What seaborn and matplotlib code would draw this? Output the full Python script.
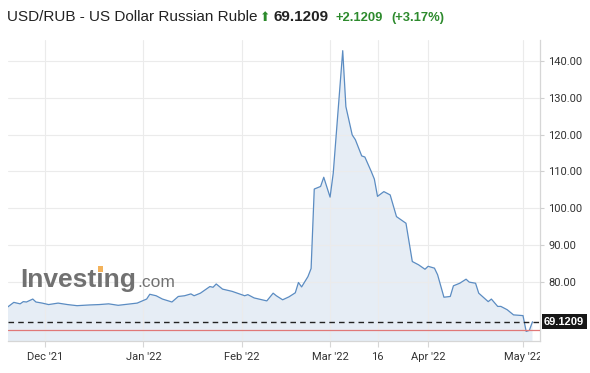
import matplotlib
matplotlib.use("Agg")
import matplotlib.pyplot as plt
from matplotlib.transforms import Bbox, TransformedBbox, blended_transform_factory
from matplotlib.patches import Rectangle
import seaborn as sns
import pandas as pd

# ---------------- data ----------------
dates = [
    "2021-11-19", "2021-11-21", "2021-11-23", "2021-11-24", "2021-11-25", "2021-11-27",
    "2021-11-28", "2021-11-30", "2021-12-02", "2021-12-05", "2021-12-08", "2021-12-11",
    "2021-12-15", "2021-12-18", "2021-12-21", "2021-12-24", "2021-12-27", "2021-12-30",
    "2022-01-02", "2022-01-03", "2022-01-05", "2022-01-07", "2022-01-10", "2022-01-12",
    "2022-01-14", "2022-01-16", "2022-01-17", "2022-01-19", "2022-01-22", "2022-01-23",
    "2022-01-24", "2022-01-26", "2022-01-29", "2022-02-02", "2022-02-03", "2022-02-05",
    "2022-02-09", "2022-02-11", "2022-02-12", "2022-02-14", "2022-02-16", "2022-02-18",
    "2022-02-19", "2022-02-20", "2022-02-22", "2022-02-23", "2022-02-24", "2022-02-26",
    "2022-02-27", "2022-03-01", "2022-03-02", "2022-03-05", "2022-03-06", "2022-03-08",
    "2022-03-09", "2022-03-11", "2022-03-12", "2022-03-14", "2022-03-15", "2022-03-16",
    "2022-03-18", "2022-03-20", "2022-03-22", "2022-03-25", "2022-03-27", "2022-03-29",
    "2022-03-31", "2022-04-01", "2022-04-03", "2022-04-04", "2022-04-06", "2022-04-08",
    "2022-04-09", "2022-04-11", "2022-04-13", "2022-04-14", "2022-04-16", "2022-04-17",
    "2022-04-20", "2022-04-21", "2022-04-23", "2022-04-24", "2022-04-26", "2022-04-28",
    "2022-05-01", "2022-05-02", "2022-05-03", "2022-05-04",
]
rates = [
    73.1, 74.4, 74.0, 74.6, 74.5, 75.3,
    74.5, 74.2, 73.8, 74.2, 73.8, 73.5,
    73.7, 73.8, 74.0, 73.6, 73.9, 74.2,
    75.3, 76.6, 76.2, 75.3, 74.5, 76.0,
    76.2, 76.7, 76.2, 76.9, 78.7, 78.5,
    79.4, 78.0, 77.4, 76.2, 76.5, 75.6,
    74.8, 76.9, 76.2, 75.1, 75.9, 77.0,
    79.8, 78.6, 81.4, 83.6, 105.2, 105.9,
    108.4, 103.0, 109.5, 142.8, 127.6, 119.9,
    118.6, 114.2, 113.9, 110.0, 107.9, 103.2,
    104.5, 103.6, 97.7, 95.9, 85.5, 84.6,
    83.4, 84.2, 83.7, 81.9, 75.8, 76.0,
    78.9, 79.6, 80.7, 79.9, 79.6, 76.9,
    74.6, 75.3, 73.3, 73.3, 72.4, 71.0,
    70.8, 66.5, 66.8, 69.1209,
]
last_price = 69.1209
prev_close = 67.0
price_text = "69.1209"
change_text = "+2.1209"
change_pct_text = "(+3.17%)"
title_text = "USD/RUB - US Dollar Russian Ruble"
ytick_values = [80, 90, 100, 110, 120, 130, 140]
xtick_dates = ["2021-12-01", "2022-01-01", "2022-02-01", "2022-03-01",
               "2022-03-16", "2022-04-01", "2022-05-01"]
xtick_labels = ["Dec '21", "Jan '22", "Feb '22", "Mar '22", "16", "Apr '22", "May '22"]

df = pd.DataFrame({"date": pd.to_datetime(dates), "rate": rates})

# ---------------- style ----------------
sns.set_theme(style="white")
plt.rcParams["font.family"] = ["Liberation Sans", "DejaVu Sans"]

W, H = 590, 373
fig = plt.figure(figsize=(W / 100, H / 100), dpi=100)
ax = fig.add_axes([8 / W, 32 / H, 532 / W, 301 / H])

line_color = "#5b8cc2"
fill_color = "#e6edf5"

ax.fill_between(df["date"], df["rate"], 0, color=fill_color, lw=0, zorder=1)
sns.lineplot(data=df, x="date", y="rate", ax=ax, color=line_color,
             linewidth=0.9, zorder=3)

ax.axhline(prev_close, color="#e07878", lw=0.9, zorder=4)
ax.axhline(last_price, color="#222222", lw=1.0, ls=(0, (4, 3)), zorder=4)

ax.set_ylim(63.9, 145.7)
ax.set_xlim(pd.Timestamp("2021-11-19 04:00"), pd.Timestamp("2022-05-06 09:00"))

# grid
ax.set_axisbelow(False)
ax.grid(True, color="#ebebeb", lw=0.8)

# spines
for s in ["top", "left"]:
    ax.spines[s].set_visible(False)
for s in ["right", "bottom"]:
    ax.spines[s].set_color("#d6d6d6")
    ax.spines[s].set_linewidth(0.9)

# y axis on right
ax.yaxis.tick_right()
ax.set_yticks(ytick_values)
ax.set_yticklabels([f"{v:.2f}" for v in ytick_values])
ax.set_xticks(pd.to_datetime(xtick_dates))
ax.set_xticklabels(xtick_labels)
ax.tick_params(axis="y", length=3, width=0.8, color="#d0d0d0", pad=3,
               labelsize=8, labelcolor="#333333", right=True, left=False)
ax.tick_params(axis="x", length=4, width=0.8, color="#d6d6d6", pad=4,
               labelsize=8, labelcolor="#333333", bottom=True)
for lab in ax.get_yticklabels() + ax.get_xticklabels():
    lab.set_family(["Roboto", "DejaVu Sans"])
ax.set_xlabel("")
ax.set_ylabel("")

# price tag at right
trans = blended_transform_factory(ax.transAxes, ax.transData)
ax.text(1.0 + 4 / 532, last_price, price_text, transform=trans, ha="left", va="center",
        color="white", fontsize=8, fontweight="bold", clip_on=False, zorder=6,
        bbox=dict(boxstyle="square,pad=0.22", fc="#161616", ec="none"))

# header
base_y = 1 - 21 / H
fig.text(7 / W, base_y, title_text, fontsize=11, color="#222222", va="baseline")
fig.text(265.5 / W, base_y, "\u2b06", fontsize=9, color="#2b8a2b",
         ha="center", va="baseline", family=["DejaVu Sans"])
fig.text(273 / W, base_y, price_text, fontsize=11, fontweight="bold",
         color="#222222", va="baseline")
fig.text(336 / W, base_y, change_text, fontsize=9.4, fontweight="bold",
         color="#2d8a2d", va="baseline")
fig.text(391 / W, base_y, change_pct_text, fontsize=9.4, fontweight="bold",
         color="#2d8a2d", va="baseline")

# watermark logo
logo_color = "#717171"
fig.text(20 / W, 1 - 287 / H, "Investing", fontsize=19, fontweight="bold",
         color=logo_color, va="baseline", zorder=10)
fig.text(137 / W, 1 - 287 / H, ".com", fontsize=12.5, color=logo_color,
         va="baseline", zorder=10)
fig.patches.append(Rectangle((97.5 / W, 1 - 272 / H), 5.5 / W, 6 / H,
                             transform=fig.transFigure, fc="#f3b25a", ec="none",
                             zorder=11))

# clip x tick labels at the plot's right edge
fig.canvas.draw()
clip = TransformedBbox(Bbox([[0, -0.3], [1, 1]]), ax.transAxes)
for lab in ax.get_xticklabels():
    lab.set_clip_box(clip)
    lab.set_clip_on(True)

fig.savefig("out.png", dpi=100)
